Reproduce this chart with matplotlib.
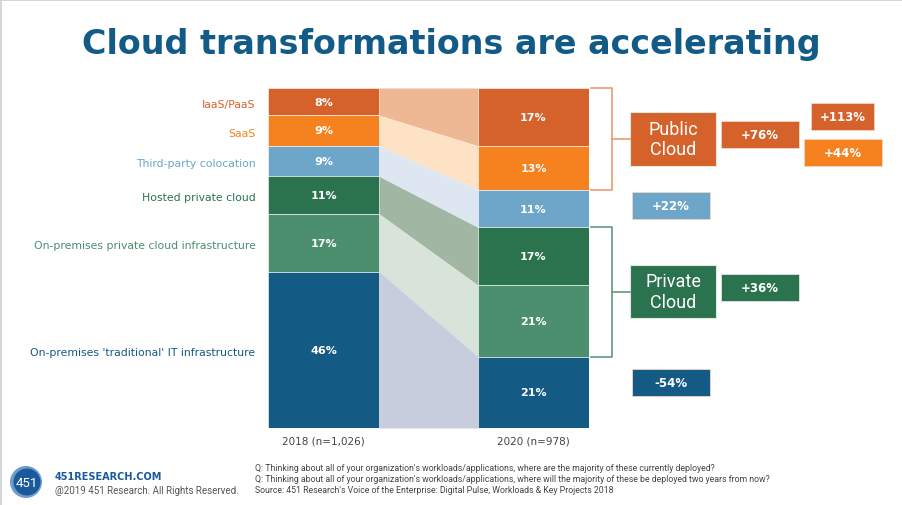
import matplotlib
matplotlib.use("Agg")
import numpy as np
import matplotlib.pyplot as plt
from matplotlib.patches import Rectangle, Circle
from matplotlib import transforms

# ---- data -------------------------------------------------------------
categories = ["IaaS/PaaS", "SaaS", "Third-party colocation", "Hosted private cloud",
              "On-premises private cloud infrastructure",
              "On-premises 'traditional' IT infrastructure"]
share_2018 = [8, 9, 9, 11, 17, 46]
share_2020 = [17, 13, 11, 17, 21, 21]
year_labels = ["2018 (n=1,026)", "2020 (n=978)"]

group_names = ["Public\nCloud", "Private\nCloud"]
group_members = [[0, 1], [3, 4]]          # indices into categories
group_change = ["+76%", "+36%"]
segment_change = ["+113%", "+44%", "+22%", "-54%"]

title = "Cloud transformations are accelerating"
footnotes = [
    "Q: Thinking about all of your organization's workloads/applications, where are the majority of these currently deployed?",
    "Q: Thinking about all of your organization's workloads/applications, where will the majority of these be deployed two years from now?",
    "Source: 451 Research's Voice of the Enterprise: Digital Pulse, Workloads & Key Projects 2018",
]

# ---- styles -----------------------------------------------------------
seg_colors = ["#D4622A", "#F5821F", "#6DA6C8", "#2A734E", "#4B8F6E", "#135A85"]
flow_colors = ["#EEB894", "#FDE2C6", "#DEE7F1", "#A2B7A3", "#D8E3DA", "#C8CDDE"]
label_colors = ["#D4622A", "#F5821F", "#6DA6C8", "#2A734E", "#4B8F6E", "#135A85"]
title_color = "#125B87"
FONT = ["DejaVu Sans"]
ROBOTO = ["Roboto", "DejaVu Sans"]

W, H = 902, 506
fig = plt.figure(figsize=(W / 100, H / 100), dpi=100)
fig.patch.set_facecolor("white")

# chart axes (pixel box 268..589 x 89..429)
x0, x1, y0, y1 = 268, 589, 89, 429
ax = fig.add_axes([x0 / W, 1 - y1 / H, (x1 - x0) / W, (y1 - y0) / H])
bw = 0.5287
ax.set_xlim(-bw / 2, 1 + bw / 2)
ax.set_ylim(100, 0)
ax.axis("off")

cum18 = np.concatenate([[0], np.cumsum(share_2018)])
cum20 = np.concatenate([[0], np.cumsum(share_2020)])

for i in range(len(categories)):
    # flows between the bars
    ax.fill_between([bw / 2, 1 - bw / 2], [cum18[i], cum20[i]], [cum18[i + 1], cum20[i + 1]],
                    color=flow_colors[i], lw=0)
    for xpos, vals, cum in ((0, share_2018, cum18), (1, share_2020, cum20)):
        ax.bar(xpos, vals[i], bottom=cum[i], width=bw, color=seg_colors[i],
               edgecolor="white", linewidth=0.4)
        ax.text(xpos, cum[i] + vals[i] / 2, f"{vals[i]}%", ha="center", va="center",
                color="white", fontsize=8, fontweight="bold", family=FONT)
    ax.text(-bw / 2 - 0.06, cum18[i] + share_2018[i] / 2 + 0.6, categories[i], ha="right",
            va="center", color=label_colors[i], fontsize=7.8, family=FONT)

for xpos, lab in zip([0, 1], year_labels):
    ax.text(xpos, 103.8, lab, ha="center", va="center", color="#444444", fontsize=7.5,
            family=FONT)

# overlay axes in pixel coordinates
ov = fig.add_axes([0, 0, 1, 1])
ov.set_xlim(0, W)
ov.set_ylim(H, 0)
ov.axis("off")
ov.patch.set_alpha(0)

# slide border
ov.plot([1, 1], [0, H], color="#D0D0D0", lw=1.2)
ov.plot([0, W], [1, 1], color="#D0D0D0", lw=1.2)

ov.text(451, 44, title, ha="center", va="center", color=title_color, fontsize=24,
        fontweight="bold", family=FONT)

# brackets: x in pixels, y in chart data
blend = transforms.blended_transform_factory(ov.transData, ax.transData)
bracket_colors = ["#EA9C72", "#5E9C7D"]
box_colors = [seg_colors[0], seg_colors[3]]
box_y = [(113, 167), (266, 319)]
for g, members in enumerate(group_members):
    top, bot = cum20[members[0]], cum20[members[-1] + 1]
    c = bracket_colors[g]
    ax.plot([591, 612, 612, 591], [top, top, bot, bot], color=c, lw=1.2,
            transform=blend, clip_on=False)
    mid = (box_y[g][0] + box_y[g][1]) / 2
    ov.plot([612, 630], [mid, mid], color=c, lw=1.2)
    ov.add_patch(Rectangle((630, box_y[g][0]), 86, box_y[g][1] - box_y[g][0],
                           facecolor=box_colors[g], edgecolor="#DDE8E0", lw=0.8))
    ov.text(673, mid, group_names[g], ha="center", va="center", color="white",
            fontsize=13, family=ROBOTO, linespacing=1.2)
    gy = box_y[g][0] + 9
    ov.add_patch(Rectangle((721, gy), 78, 27, facecolor=box_colors[g],
                           edgecolor="#F3D6C6" if g == 0 else "#DDE8E0", lw=0.6))
    ov.text(760, gy + 13.5, group_change[g], ha="center", va="center", color="white",
            fontsize=8.5, fontweight="bold", family=FONT)

# per-segment change boxes
chg_boxes = [(811, 104, 63, 27, seg_colors[0]), (804, 140, 78, 27, seg_colors[1]),
             (632, 193, 78, 27, seg_colors[2]), (632, 370, 78, 27, seg_colors[5])]
for (bx, by, bwid, bh, col), lab in zip(chg_boxes, segment_change):
    ov.add_patch(Rectangle((bx, by), bwid, bh, facecolor=col, edgecolor="#F3D6C6", lw=0.6))
    ov.text(bx + bwid / 2, by + bh / 2, lab, ha="center", va="center", color="white",
            fontsize=8.5, fontweight="bold", family=FONT)

# footer
ov.add_patch(Circle((26, 483), 16, facecolor="#6E9CCB", edgecolor="none"))
ov.add_patch(Circle((27, 483), 13.5, facecolor="#1A5A9C", edgecolor="none"))
ov.text(27, 483.5, "451", ha="center", va="center", color="white", fontsize=9.5, family=ROBOTO)
ov.text(55, 477, "451RESEARCH.COM", ha="left", va="center", color="#1A5A9C", fontsize=7,
        fontweight="bold", family=FONT)
ov.text(55, 491, "@2019 451 Research. All Rights Reserved.", ha="left", va="center",
        color="#555555", fontsize=7, family=ROBOTO)
for k, line in enumerate(footnotes):
    ov.text(255, 469 + 11 * k, line, ha="left", va="center", color="#444444",
            fontsize=6.3, family=ROBOTO)

fig.savefig("out.png", dpi=100, facecolor="white")
